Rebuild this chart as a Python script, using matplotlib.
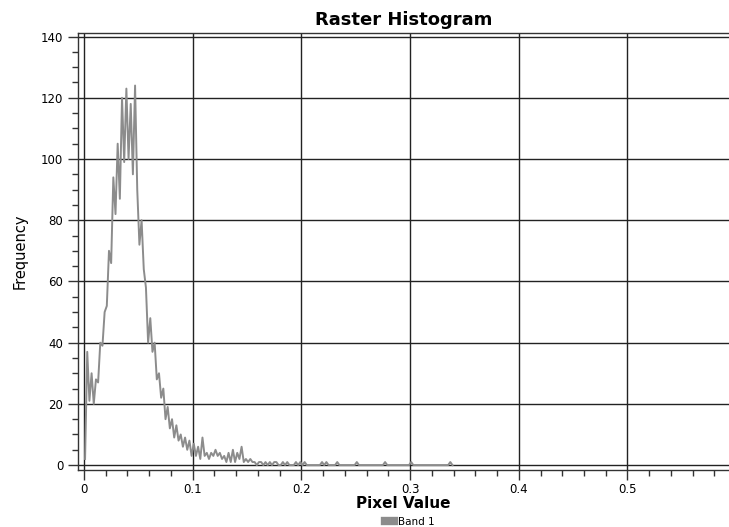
import numpy as np
import matplotlib
matplotlib.use("Agg")
import matplotlib.pyplot as plt
from matplotlib.ticker import MultipleLocator

# histogram of band 1, bins of width 0.002 starting at 0
bin_width = 0.002
band1_counts = [
    2, 37, 21, 30, 20, 28, 27, 40, 39, 50,
    52, 70, 66, 94, 82, 105, 87, 120, 99, 123,
    100, 118, 95, 124, 90, 72, 80, 64, 58, 40,
    48, 37, 40, 28, 30, 22, 25, 15, 19, 12,
    15, 9, 13, 8, 10, 6, 9, 5, 8, 3,
    7, 3, 6, 2, 9, 3, 4, 2, 4, 3,
    5, 3, 4, 2, 3, 1, 4, 1, 5, 1,
    4, 2, 6, 1, 2, 1, 2, 1, 1, 0,
    1, 1, 0, 1, 0, 1, 0, 1, 1, 0,
    0, 1, 0, 1, 0, 0, 0, 1, 0, 1,
    0, 1, 0, 0, 0, 0, 0, 0, 0, 1,
    0, 1, 0, 0, 0, 0, 1, 0, 0, 0,
    0, 0, 0, 0, 0, 1, 0, 0, 0, 0,
    0, 0, 0, 0, 0, 0, 0, 0, 1, 0,
    0, 0, 0, 0, 0, 0, 0, 0, 0, 0,
    1, 0, 0, 0, 0, 0, 0, 0, 0, 0,
    0, 0, 0, 0, 0, 0, 0, 0, 1, 0,
]
x_ticks = [0, 0.1, 0.2, 0.3, 0.4, 0.5]
y_ticks = [0, 20, 40, 60, 80, 100, 120, 140]

centers = bin_width / 2 + bin_width * np.arange(len(band1_counts))

fig = plt.figure(figsize=(7.29, 5.27), dpi=100)
ax = fig.add_axes([0.107, 0.108, 0.893, 0.829])

ax.plot(centers, band1_counts, color="#8c8c8c", lw=1.4, label="Band 1", zorder=3)

ax.set_xlim(-0.0055, 0.5934)
ax.set_ylim(-1.63, 141.1)
ax.set_xticks(x_ticks)
ax.set_xticklabels(["0", "0.1", "0.2", "0.3", "0.4", "0.5"])
ax.set_yticks(y_ticks)
ax.xaxis.set_minor_locator(MultipleLocator(0.02))
ax.yaxis.set_minor_locator(MultipleLocator(5))
ax.tick_params(which="major", length=7, width=1, color="#333333", labelsize=8.5, direction="out")
ax.tick_params(which="minor", length=4.5, width=1, color="#333333", direction="out")
ax.tick_params(axis="x", pad=2)

ax.grid(True, which="major", color="#222222", lw=1)
ax.set_axisbelow(True)
ax.spines["right"].set_visible(False)
for side in ["left", "bottom", "top"]:
    ax.spines[side].set_color("#333333")
    ax.spines[side].set_linewidth(1)

ax.set_title("Raster Histogram", fontsize=13, fontweight="bold", pad=6)
ax.set_xlabel("Pixel Value", fontsize=11, fontweight="bold", labelpad=0)
ax.set_ylabel("Frequency", fontsize=10.5, labelpad=10)

ax.legend(loc="center", bbox_to_anchor=(0.51, -0.118), frameon=False,
          fontsize=7.5, handlelength=0.8, handleheight=0.8, handletextpad=0.4,
          borderpad=0, borderaxespad=0)
leg = ax.get_legend()
for h in leg.legend_handles:
    h.set_linewidth(6)

fig.savefig("out.png", dpi=100)
